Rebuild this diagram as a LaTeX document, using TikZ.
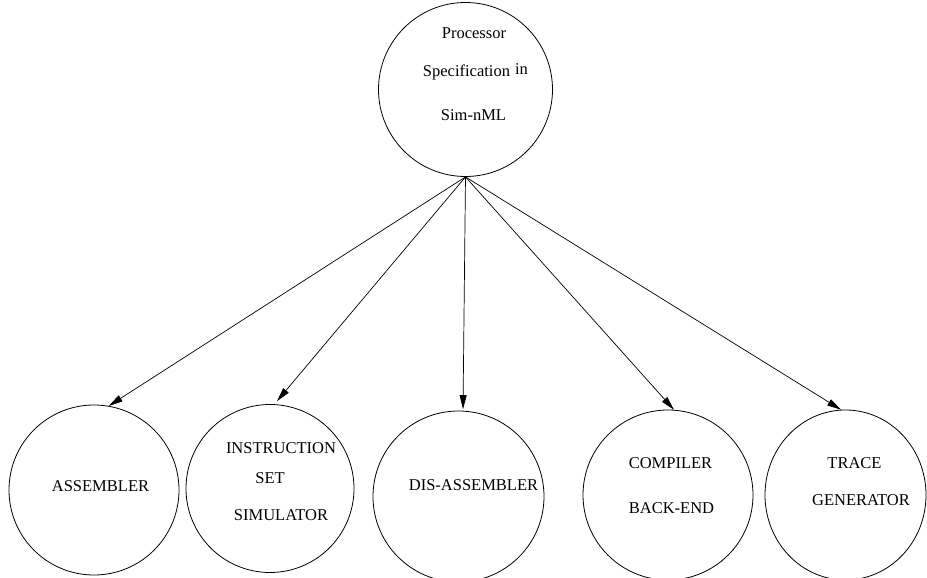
\documentclass[tikz,border=0pt]{standalone}
\usepackage{fontspec}
\setmainfont{Liberation Serif}
\usetikzlibrary{arrows.meta,shapes.geometric}
\begin{document}
\begin{tikzpicture}[x=1pt,y=-1pt,
  bubble/.style={draw,circle,inner sep=0pt,line width=0.8pt},
  lbl/.style={anchor=base,inner sep=0pt,font=\fontsize{16.5}{18}\selectfont},
  arr/.style={-{Triangle[length=14pt,width=7pt]},line width=0.7pt}]
\useasboundingbox (0,0) rectangle (927,578);
\clip (0,0) rectangle (927,578);
% circles
\node[bubble,minimum size=174pt] (P) at (465.5,89.5) {};
\node[bubble,minimum size=170pt] (A) at (94,490) {};
\node[bubble,minimum size=168pt] (B) at (270,488.5) {};
\node[bubble,minimum size=171pt] (C) at (458.5,496.5) {};
\node[bubble,minimum size=170pt] (D) at (668,495) {};
\node[draw,ellipse,inner sep=0pt,line width=0.8pt,minimum width=161pt,minimum height=170pt] (E) at (845.5,495) {};
% labels
\node[lbl] (p1) at (474,39) {Processor};
\node[lbl] (p2) at (466.5,77) {Specification};
\node[lbl] (p3) at (521.5,75) {in};
\node[lbl] (p4) at (473.5,120.5) {Sim-nML};
\node[lbl] (a1) at (100.5,491) {ASSEMBLER};
\node[lbl] (b1) at (281,453) {INSTRUCTION};
\node[lbl] (b2) at (270,483) {SET};
\node[lbl] (b3) at (281,520) {SIMULATOR};
\node[lbl] (c1) at (473.5,490) {DIS-ASSEMBLER};
\node[lbl] (d1) at (670.5,468) {COMPILER};
\node[lbl] (d2) at (671.5,513) {BACK-END};
\node[lbl] (e1) at (854.5,468) {TRACE};
\node[lbl] (e2) at (861,505) {GENERATOR};
% connectors
\draw[arr] (P.south) -- (A.80);
\draw[arr,shorten >=4pt] (P.south) -- (B.87);
\draw[arr,shorten >=1.5pt] (P.south) -- (C.87);
\draw[arr] (P.south) -- (D.86);
\draw[arr] (P.south) -- (E.93);
\end{tikzpicture}
\end{document}
